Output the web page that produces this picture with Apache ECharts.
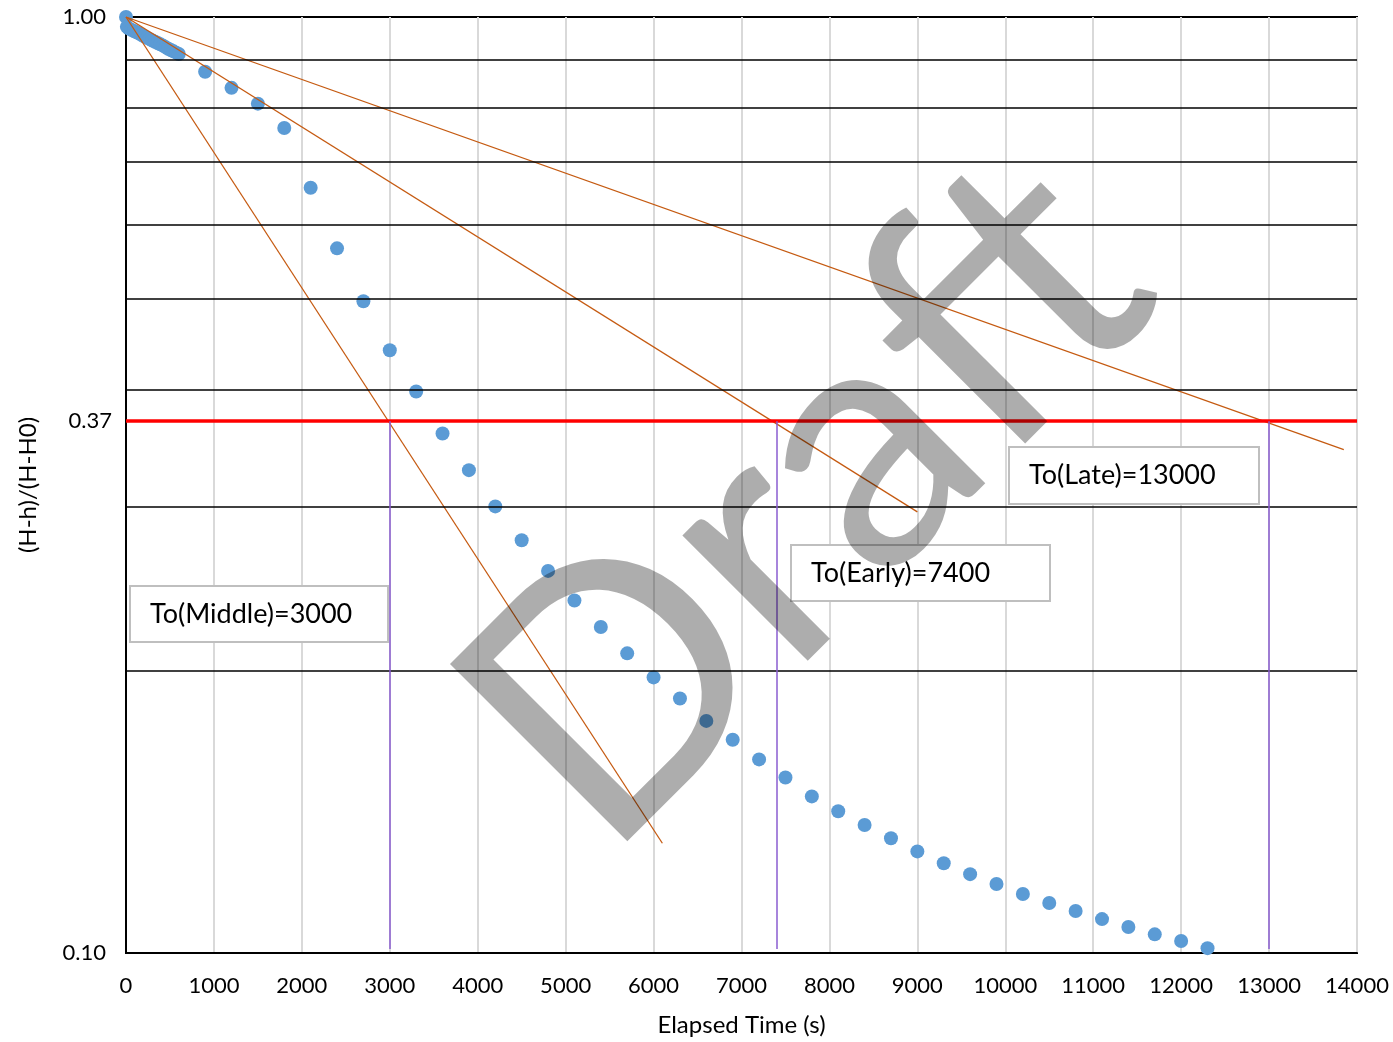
<!DOCTYPE html>
<html>
<head>
<meta charset="utf-8">
<script src="https://cdn.jsdelivr.net/npm/echarts@6/dist/echarts.min.js"></script>
<style>
  html, body { margin: 0; padding: 0; background: #fff; }
  #main { width: 1393px; height: 1042px; }
</style>
</head>
<body>
<div id="main"></div>
<script>
// 测得的数据点 (时间 s, 归一化水头)
var timeS = [0, 10, 30, 60, 90, 120, 150, 180, 210, 240, 270, 300, 330, 360, 390, 420, 450, 480, 510, 540, 570, 600,
  900, 1200, 1500, 1800, 2100, 2400, 2700, 3000, 3300, 3600, 3900, 4200, 4500, 4800, 5100, 5400, 5700, 6000,
  6300, 6600, 6900, 7200, 7500, 7800, 8100, 8400, 8700, 9000, 9300, 9600, 9900, 10200, 10500, 10800, 11100,
  11400, 11700, 12000, 12300]
var headRatio = [1.0, 0.976, 0.9725, 0.969, 0.966, 0.963, 0.960, 0.9565, 0.953, 0.950, 0.947, 0.944, 0.941, 0.938, 0.935, 0.932, 0.9285, 0.925, 0.922, 0.919, 0.916, 0.913,
  0.874, 0.840, 0.808, 0.761, 0.657, 0.566, 0.497, 0.4405, 0.398, 0.359, 0.328, 0.300, 0.276, 0.256, 0.238,
  0.223, 0.209, 0.197, 0.187, 0.177, 0.169, 0.161, 0.154, 0.147, 0.1417, 0.137, 0.1326, 0.1284, 0.1247, 0.1214,
  0.1185, 0.1156, 0.1131, 0.1109, 0.1087, 0.1066, 0.1047, 0.103, 0.1012]

// 切线: 从 (0, 1) 出发, 终点读自图
var tangentNames = ['Middle', 'Early', 'Late']
var tangentT0 = [3000, 7400, 13000]
var tangentEndX = [6100, 9000, 13850]
var tangentEndY = [0.131, 0.296, 0.345]

var refLevel = 0.37
var gridLevels = [0.2, 0.3, 0.4, 0.5, 0.6, 0.7, 0.8, 0.9]

var myChart = echarts.init(document.getElementById('main'))

var font = 'Lato'

var series = [
  {
    name: 'data',
    type: 'scatter',
    z: 2,
    symbolSize: 14,
    itemStyle: { color: '#5B9BD5', opacity: 1 },
    data: timeS.map(function (t, i) { return [t, headRatio[i]] }),
    markLine: {
      silent: true,
      symbol: 'none',
      animation: false,
      data: gridLevels.map(function (v) {
        return { yAxis: v, lineStyle: { color: '#000', width: 1.6, type: 'solid' }, label: { show: false } }
      }).concat([{
        yAxis: refLevel,
        lineStyle: { color: '#FF0000', width: 3.5, type: 'solid' },
        label: { show: true, position: 'start', distance: 14, formatter: '0.37', color: '#000', fontSize: 22, fontFamily: font }
      }]).concat(tangentT0.map(function (t) {
        return [
          { coord: [t, refLevel], lineStyle: { color: '#8A5CD0', width: 1.5, type: 'solid' }, label: { show: false } },
          { coord: [t, 0.101] }
        ]
      }))
    }
  }
]

tangentNames.forEach(function (n, i) {
  series.push({
    name: n,
    type: 'line',
    z: 3,
    showSymbol: false,
    symbol: 'none',
    lineStyle: { color: '#C55A11', width: 1.3 },
    data: [[0, 1], [tangentEndX[i], tangentEndY[i]]]
  })
})

// 标注框
function box (x, y, w, h, text) {
  return {
    type: 'group',
    x: x,
    y: y,
    z: 50,
    children: [
      { type: 'rect', z: 50, shape: { x: 0, y: 0, width: w, height: h }, style: { fill: '#fff', stroke: '#BFBFBF', lineWidth: 2 } },
      { type: 'text', z: 51, x: 20, y: h / 2, style: { text: text, font: '27px Lato', fill: '#000', verticalAlign: 'middle', align: 'left' } }
    ]
  }
}

var option = {
  animation: false,
  backgroundColor: '#fff',
  grid: { left: 126, right: 36, top: 17, bottom: 87, show: true, borderColor: '#000', borderWidth: 2 },
  xAxis: {
    type: 'value',
    min: 0,
    max: 14000,
    interval: 1000,
    name: 'Elapsed Time (s)',
    nameLocation: 'middle',
    nameGap: 60,
    nameTextStyle: { color: '#000', fontSize: 24, fontFamily: font },
    axisLine: { lineStyle: { color: '#000', width: 2 } },
    axisTick: { show: false },
    axisLabel: { color: '#000', fontSize: 22, fontFamily: font, margin: 22, formatter: function (v) { return String(v) } },
    splitLine: { lineStyle: { color: '#D9D9D9', width: 2 } }
  },
  yAxis: {
    type: 'log',
    logBase: 10,
    min: 0.1,
    max: 1,
    name: '(H-h)/(H-H0)',
    nameLocation: 'middle',
    nameGap: 86,
    nameTextStyle: { color: '#000', fontSize: 24, fontFamily: font },
    axisLine: { show: true, lineStyle: { color: '#000', width: 2 } },
    axisTick: { show: false },
    axisLabel: { color: '#000', fontSize: 22, fontFamily: font, margin: 20, formatter: function (v) { return v.toFixed(2) } },
    splitLine: { lineStyle: { color: '#000', width: 2 } }
  },
  series: series,
  graphic: [
    box(130, 586, 258, 56, 'To(Middle)=' + tangentT0[0]),
    box(791, 545, 259, 56, 'To(Early)=' + tangentT0[1]),
    box(1009, 447, 250, 57, 'To(Late)=' + tangentT0[2]),
    {
      type: 'text',
      x: 807,
      y: 502,
      z: 100,
      rotation: Math.PI / 4,
      silent: true,
      style: { text: 'Draft', font: '350px Lato', fill: 'rgba(0,0,0,0.32)', align: 'center', verticalAlign: 'middle' }
    }
  ]
}

myChart.setOption(option)
</script>
</body>
</html>
